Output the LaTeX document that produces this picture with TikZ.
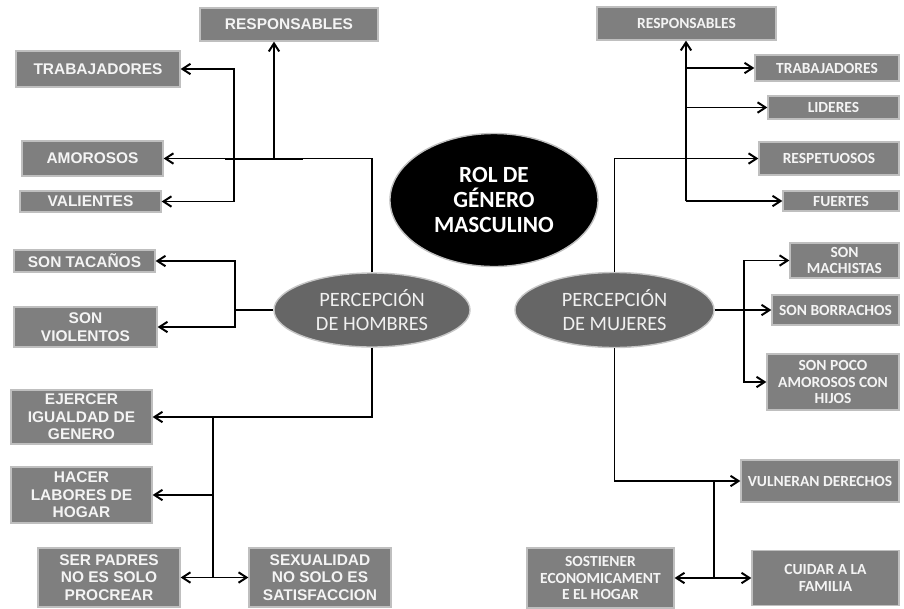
\documentclass[tikz,border=0pt]{standalone}
\usepackage{fontspec}
\setmainfont{Carlito}
\newfontfamily\arialfont{Liberation Sans}
\usetikzlibrary{arrows.meta,positioning,calc,shapes.geometric}
\definecolor{boxfill}{HTML}{7F7F7F}
\definecolor{boxline}{HTML}{BFBFBF}
\definecolor{ovalfill}{HTML}{666666}
\definecolor{boxtext}{HTML}{F4F4F4}
\tikzset{
  hbox/.style={draw=boxline, line width=0.9pt, fill=boxfill, text=boxtext, align=center, inner sep=0pt, font=\arialfont\bfseries\fontsize{11}{12.5}\selectfont},
  mbox/.style={draw=boxline, line width=0.9pt, fill=boxfill, text=boxtext, align=center, inner sep=0pt, font=\bfseries\fontsize{11}{12}\selectfont},
  oval/.style={ellipse, draw=gray!45, line width=1pt, fill=ovalfill, text=gray!12, align=center, inner sep=0pt, font=\fontsize{14.5}{17}\selectfont},
  edge/.style={-{Straight Barb[length=2mm,width=2.6mm]}, line width=1.4pt},
  link/.style={line width=1.4pt}
}
\begin{document}
\begin{tikzpicture}[x=0.025cm, y=-0.025cm]
\useasboundingbox (0,0) rectangle (904,608);
\node[oval, fill=black, draw=gray!50, text=white, font=\bfseries\fontsize{16.5}{18}\selectfont, minimum width=5.2cm, minimum height=3.325cm] (rol) at (494,200) {ROL DE\\GÉNERO\\MASCULINO};
\node[oval, minimum width=4.9cm, minimum height=1.85cm] (hom) at (372,310) {PERCEPCIÓN\\DE HOMBRES};
\node[oval, minimum width=4.975cm, minimum height=1.875cm] (muj) at (614.5,310) {PERCEPCIÓN\\DE MUJERES};

\node[hbox, minimum width=4.45cm, minimum height=0.825cm] (h0) at (289,24.5) {RESPONSABLES};
\node[hbox, minimum width=4.1cm, minimum height=0.9cm] (h1) at (98,69) {TRABAJADORES};
\node[hbox, minimum width=3.525cm, minimum height=0.875cm] (h2) at (92.5,158.5) {AMOROSOS};
\node[hbox, minimum width=3.525cm, minimum height=0.525cm] (h3) at (90.5,201.5) {VALIENTES};
\node[hbox, minimum width=3.525cm, minimum height=0.55cm] (h4) at (84.5,261) {SON TACAÑOS};
\node[hbox, minimum width=3.575cm, minimum height=1cm] (h5) at (85.5,327) {SON\\VIOLENTOS};
\node[hbox, minimum width=3.525cm, minimum height=1.35cm] (h6) at (81.5,417) {EJERCER\\IGUALDAD DE\\GENERO};
\node[hbox, minimum width=3.525cm, minimum height=1.4cm] (h7) at (81.5,495) {HACER\\LABORES DE\\HOGAR};
\node[hbox, minimum width=3.55cm, minimum height=1.475cm] (h8) at (109,577.5) {SER PADRES\\NO ES SOLO\\PROCREAR};
\node[hbox, minimum width=3.55cm, minimum height=1.475cm] (h9) at (320,577.5) {SEXUALIDAD\\NO SOLO ES\\SATISFACCION};

\node[mbox, minimum width=4.475cm, minimum height=0.825cm] (m0) at (686.5,23.5) {RESPONSABLES};
\node[mbox, minimum width=3.6cm, minimum height=0.65cm] (m1) at (827,68) {TRABAJADORES};
\node[mbox, minimum width=3.275cm, minimum height=0.575cm] (m2) at (833.5,107.5) {LIDERES};
\node[mbox, minimum width=3.5cm, minimum height=0.825cm] (m3) at (829,158.5) {RESPETUOSOS};
\node[mbox, minimum width=2.9cm, minimum height=0.5cm] (m4) at (841,201) {FUERTES};
\node[mbox, minimum width=2.725cm, minimum height=0.875cm] (m5) at (844.5,260.5) {SON\\MACHISTAS};
\node[mbox, minimum width=3.175cm, minimum height=0.75cm] (m6) at (835.5,310) {SON BORRACHOS};
\node[mbox, minimum width=3.3cm, minimum height=1.4cm] (m7) at (833,382) {SON POCO\\AMOROSOS CON\\HIJOS};
\node[mbox, minimum width=3.95cm, minimum height=1.05cm] (m8) at (820,481) {VULNERAN DERECHOS};
\node[mbox, minimum width=3.675cm, minimum height=1.5cm] (m9) at (600.5,578) {SOSTIENER\\ECONOMICAMENT\\E EL HOGAR};
\node[mbox, minimum width=3.675cm, minimum height=1.375cm] (m10) at (825.5,578) {CUIDAR A LA\\FAMILIA};

\coordinate (jh1) at (274,159);
\coordinate (jh2) at (234,159);
\coordinate (jh3) at (235,310);
\coordinate (jh4) at (213,417);
\coordinate (jm1) at (686,201);
\coordinate (jm2) at (744,310);
\coordinate (jm3) at (714,481);

\draw[edge] (hom.north) |- (h2.east);
\draw[link, line width=1.9pt] ([xshift=-1.225cm]jh1) -- ([xshift=0.725cm]jh1);
\draw[edge] (jh1) -- (jh1 |- h0.south);
\draw[edge] (jh2) |- (h1.east);
\draw[edge] (jh2) |- (h3.east);
\draw[link] (hom.west) -- (jh3);
\draw[edge] (jh3) |- (h4.east);
\draw[edge] (jh3) |- (h5.east);
\draw[edge] (hom.south) |- (h6.east);
\draw[edge] (jh4) |- (h7.east);
\draw[edge] (jh4) |- (h8.east);
\draw[edge] (jh4) |- (h9.west);

\draw[edge] (muj.north) |- (m3.west);
\draw[edge] (jm1) -- (jm1 |- m0.south);
\draw[edge] (jm1) |- (m1.west);
\draw[edge] (jm1) |- (m2.west);
\draw[edge] (jm1) -- (m4.west);
\draw[edge] (muj.east) -- (m6.west);
\draw[edge] (jm2) |- (m5.west);
\draw[edge] (jm2) |- (m7.west);
\draw[edge] (muj.south) |- (m8.west);
\draw[edge] (jm3) |- (m9.east);
\draw[edge] (jm3) |- (m10.west);
\end{tikzpicture}
\end{document}
